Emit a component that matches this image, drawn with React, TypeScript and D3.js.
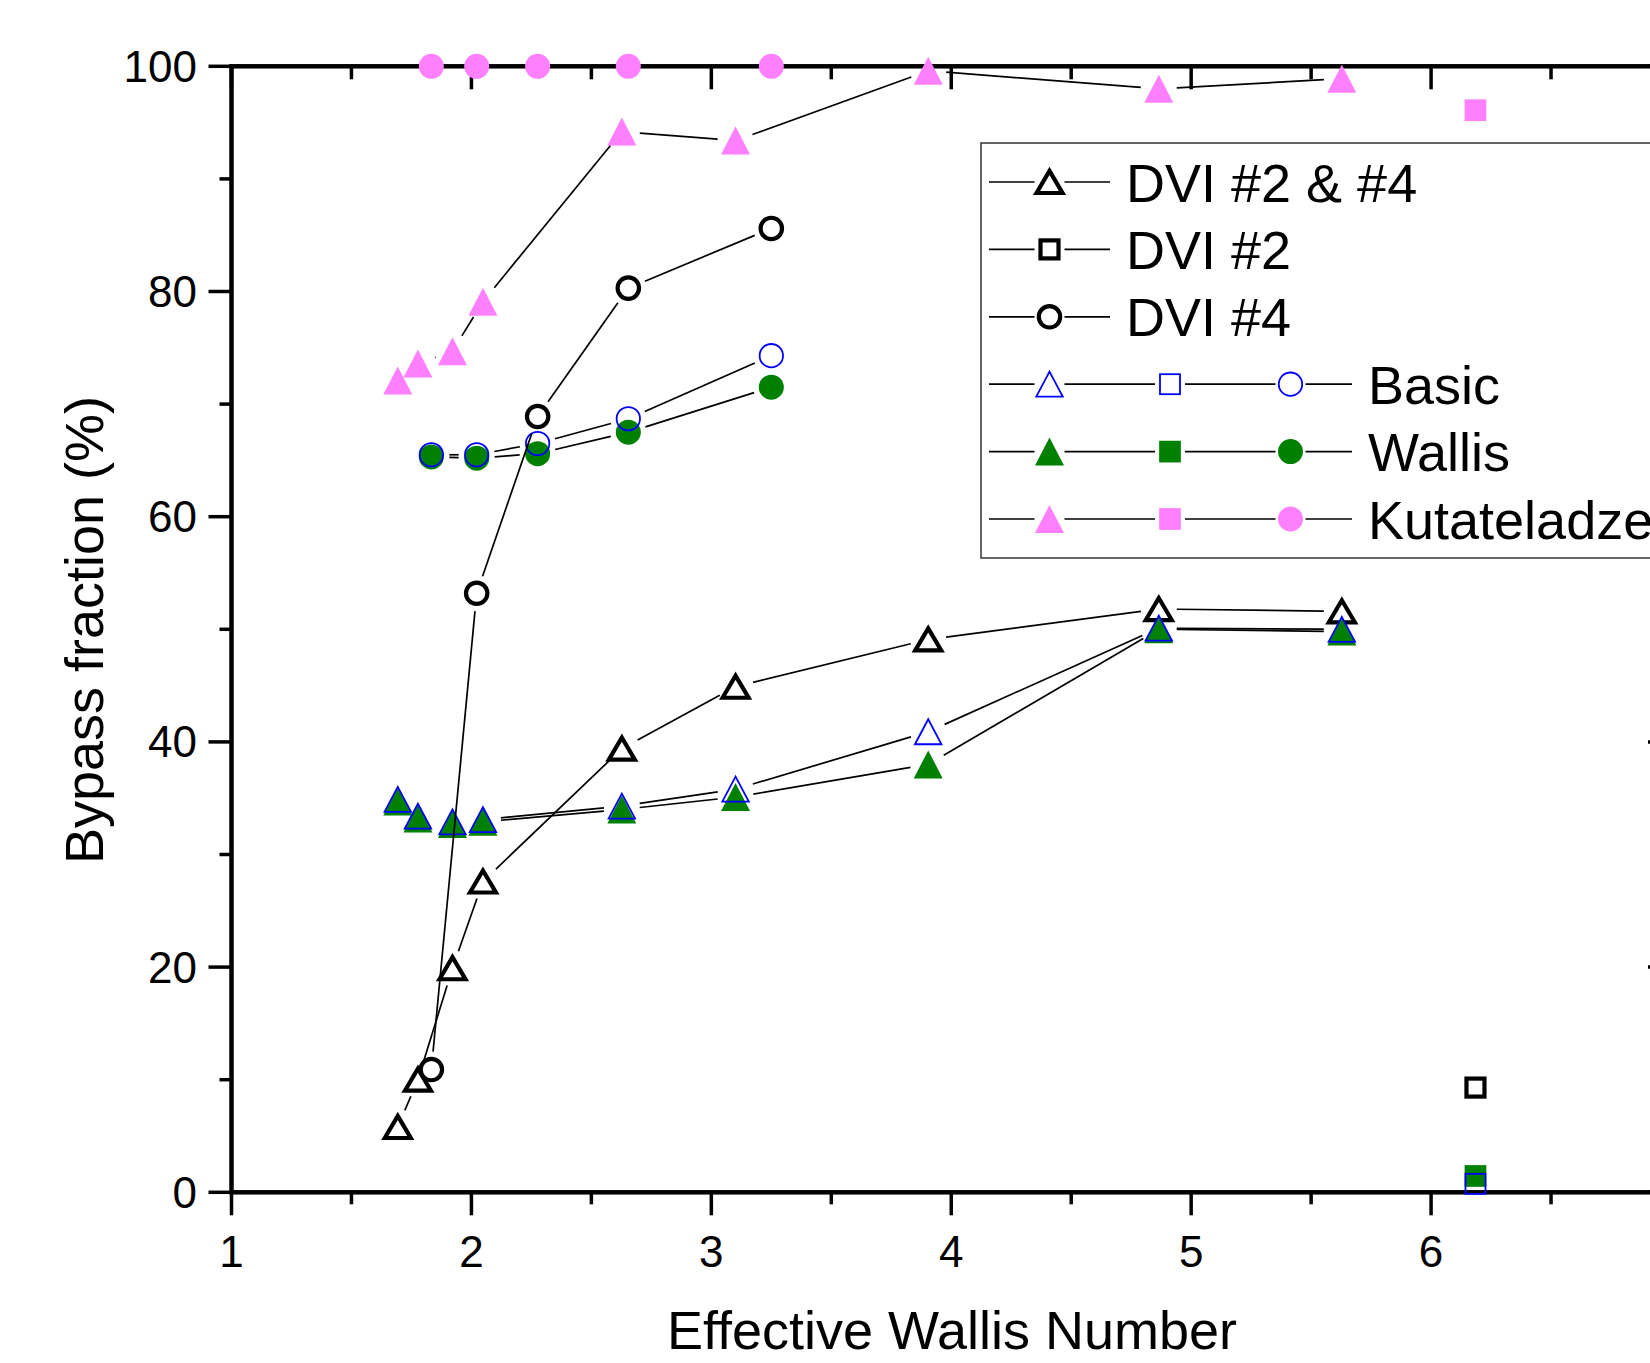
import React from "react";
import * as d3 from "d3";

// Effective Wallis number at the measured points
const xTri = [1.693, 1.777, 1.921, 2.048, 2.627, 3.101, 3.904, 4.865, 5.628];
const xCirc = [1.833, 2.022, 2.276, 2.654, 3.25];
const xSq = [6.185];

// bypass fraction (%)
const dvi24Tri = [5.8, 10.0, 19.9, 27.6, 39.4, 44.9, 49.1, 51.8, 51.6];
const dvi2Sq = [9.3];
const dvi4Circ = [10.9, 53.2, 68.9, 80.3, 85.6];
const basicTri = [34.9, 33.4, 32.9, 33.1, 34.3, 35.8, 40.9, 50.1, 50.0];
const basicSq = [0.75];
const basicCirc = [65.5, 65.5, 66.5, 68.7, 74.3];
const wallisTri = [34.7, 33.2, 32.7, 32.9, 34.0, 35.1, 38.0, 50.0, 49.8];
const wallisSq = [1.45];
const wallisCirc = [65.3, 65.2, 65.6, 67.5, 71.5];
const kutaTri = [72.1, 73.6, 74.7, 79.1, 94.2, 93.4, 99.6, 98.0, 98.9];
const kutaSq = [96.1];
const kutaCirc = [100, 100, 100, 100, 100];

const yTicks = [0, 20, 40, 60, 80, 100];
const yMinor = [10, 30, 50, 70, 90];
const xTicks = [1, 2, 3, 4, 5, 6, 7];
const xLabels = [1, 2, 3, 4, 5, 6];
const xMinor = [1.5, 2.5, 3.5, 4.5, 5.5, 6.5];

const PINK = "#ff80ff";
const GREEN = "#008000";
const BLUE = "#0000ff";

const styles = {
  black: { fill: "none", stroke: "#000", sw: 4.2, kind: "black" },
  blue: { fill: "none", stroke: BLUE, sw: 1.8, kind: "blue" },
  green: { fill: GREEN, stroke: "none", sw: 0, kind: "fill" },
  pink: { fill: PINK, stroke: "none", sw: 0, kind: "fill" },
};

const x = d3.scaleLinear().domain([1, 7]).range([231.5, 1671]);
const y = d3.scaleLinear().domain([0, 100]).range([1192.3, 66.3]);

const font = "'Liberation Sans', Arial, sans-serif";

const triSize = { black: [26, 22], blue: [26.5, 25], fill: [29, 28] };
const sqSize = { black: 18, blue: 20, fill: 21.7 };
const circR = { black: 10.7, blue: 11.7, fill: 12.5 };

function marker(shape, cx, cy, st, key) {
  if (shape === "tri") {
    const [w, h] = triSize[st.kind];
    const d = `M${cx - w / 2},${cy + h / 2}L${cx},${cy - h / 2}L${cx + w / 2},${cy + h / 2}Z`;
    return <path key={key} d={d} fill={st.fill} stroke={st.stroke} strokeWidth={st.sw} strokeLinejoin="miter" />;
  }
  if (shape === "sq") {
    const s = sqSize[st.kind];
    return <rect key={key} x={cx - s / 2} y={cy - s / 2} width={s} height={s} fill={st.fill} stroke={st.stroke} strokeWidth={st.sw} />;
  }
  return <circle key={key} cx={cx} cy={cy} r={circR[st.kind]} fill={st.fill} stroke={st.stroke} strokeWidth={st.sw} />;
}

// Origin style: connecting line broken around each marker
function gapLines(pts, gap, key) {
  const segs = [];
  for (let i = 0; i < pts.length - 1; i++) {
    const [x1, y1] = pts[i], [x2, y2] = pts[i + 1];
    const dx = x2 - x1, dy = y2 - y1, L = Math.hypot(dx, dy);
    if (L <= 2 * gap) continue;
    const ux = dx / L, uy = dy / L;
    segs.push(
      <line key={key + i} x1={x1 + ux * gap} y1={y1 + uy * gap} x2={x2 - ux * gap} y2={y2 - uy * gap}
        stroke="#000" strokeWidth={1.7} />
    );
  }
  return segs;
}

const series = [
  { xs: xTri, ys: dvi24Tri, shape: "tri", st: styles.black },
  { xs: xTri, ys: wallisTri, shape: "tri", st: styles.green },
  { xs: xCirc, ys: wallisCirc, shape: "circ", st: styles.green },
  { xs: xSq, ys: wallisSq, shape: "sq", st: styles.green },
  { xs: xTri, ys: basicTri, shape: "tri", st: styles.blue },
  { xs: xCirc, ys: basicCirc, shape: "circ", st: styles.blue },
  { xs: xSq, ys: basicSq, shape: "sq", st: styles.blue },
  { xs: xTri, ys: kutaTri, shape: "tri", st: styles.pink },
  { xs: xCirc, ys: kutaCirc, shape: "circ", st: styles.pink },
  { xs: xSq, ys: kutaSq, shape: "sq", st: styles.pink },
  { xs: xSq, ys: dvi2Sq, shape: "sq", st: styles.black },
  { xs: xCirc, ys: dvi4Circ, shape: "circ", st: styles.black },
];

const legendRows = [
  { label: "DVI #2 & #4", marks: [["tri", styles.black]] },
  { label: "DVI #2", marks: [["sq", styles.black]] },
  { label: "DVI #4", marks: [["circ", styles.black]] },
  { label: "Basic", marks: [["tri", styles.blue], ["sq", styles.blue], ["circ", styles.blue]] },
  { label: "Wallis", marks: [["tri", styles.green], ["sq", styles.green], ["circ", styles.green]] },
  { label: "Kutateladze", marks: [["tri", styles.pink], ["sq", styles.pink], ["circ", styles.pink]] },
];

export default function App() {
  const x0 = x.range()[0], x1 = x.range()[1];
  const y0 = y.range()[0], y1 = y.range()[1];
  const legX = 981, legY = 143, rowH = 67.4, row0 = 182;
  const markXs = [1049.5, 1170, 1290.5];

  return (
    <svg width={1650} height={1363} style={{ position: "absolute", left: 0, top: 0, display: "block", background: "#fff" }}>
      <rect width={1650} height={1363} fill="#fff" />

      {/* ticks */}
      {yTicks.map((t) => (
        <g key={"yt" + t}>
          <line x1={x0 - 23} x2={x0} y1={y(t)} y2={y(t)} stroke="#000" strokeWidth={3.5} />
          <line x1={x1} x2={x1 - 23} y1={y(t)} y2={y(t)} stroke="#000" strokeWidth={3.5} />
          <text x={197} y={y(t) + 15.5} textAnchor="end" fontFamily={font} fontSize={44}>{t}</text>
        </g>
      ))}
      {yMinor.map((t) => (
        <g key={"ym" + t}>
          <line x1={x0 - 12} x2={x0} y1={y(t)} y2={y(t)} stroke="#000" strokeWidth={3.5} />
          <line x1={x1} x2={x1 - 12} y1={y(t)} y2={y(t)} stroke="#000" strokeWidth={3.5} />
        </g>
      ))}
      {xTicks.map((t) => (
        <g key={"xt" + t}>
          <line x1={x(t)} x2={x(t)} y1={y0} y2={y0 + 23} stroke="#000" strokeWidth={3.5} />
          <line x1={x(t)} x2={x(t)} y1={y1} y2={y1 + 23} stroke="#000" strokeWidth={3.5} />
        </g>
      ))}
      {xLabels.map((t) => (
        <text key={"xl" + t} x={x(t)} y={1267} textAnchor="middle" fontFamily={font} fontSize={44}>{t}</text>
      ))}
      {xMinor.map((t) => (
        <g key={"xm" + t}>
          <line x1={x(t)} x2={x(t)} y1={y0} y2={y0 + 12} stroke="#000" strokeWidth={3.5} />
          <line x1={x(t)} x2={x(t)} y1={y1} y2={y1 + 13} stroke="#000" strokeWidth={3.5} />
        </g>
      ))}

      {/* frame */}
      <rect x={x0} y={y1} width={x1 - x0} height={y0 - y1} fill="none" stroke="#000" strokeWidth={4.5} />

      {/* axis titles */}
      <text x={952} y={1349} textAnchor="middle" fontFamily={font} fontSize={54}>Effective Wallis Number</text>
      <text transform={`translate(103,630) rotate(-90)`} textAnchor="middle" fontFamily={font} fontSize={54}>Bypass fraction (%)</text>

      {/* legend */}
      <rect x={legX} y={legY} width={800} height={558 - legY} fill="#fff" stroke="#333" strokeWidth={1.5} />
      {legendRows.map((r, i) => {
        const cy = row0 + i * rowH;
        const n = r.marks.length;
        const lineEnd = n === 1 ? 1110 : 1352;
        const textX = n === 1 ? 1126 : 1368;
        const pts = [[989, cy], ...markXs.slice(0, n).map((mx) => [mx, cy]), [lineEnd, cy]];
        const segs = [];
        for (let k = 0; k < pts.length - 1; k++) {
          const a = pts[k][0] + (k === 0 ? 0 : 15);
          const b = pts[k + 1][0] - (k === pts.length - 2 ? 0 : 15);
          segs.push(<line key={"ls" + i + k} x1={a} x2={b} y1={cy} y2={cy} stroke="#000" strokeWidth={1.7} />);
        }
        return (
          <g key={"leg" + i}>
            {segs}
            {r.marks.map(([shape, st], k) => marker(shape, markXs[k], cy, st, "lm" + i + k))}
            <text x={textX} y={cy + 19.5} fontFamily={font} fontSize={54}>{r.label}</text>
          </g>
        );
      })}

      {/* data */}
      {series.map((s, si) => {
        const pts = s.xs.map((v, i) => [x(v), y(s.ys[i])]);
        return (
          <g key={"s" + si}>
            {gapLines(pts, 18, "g" + si + "_")}
            {pts.map(([px, py], i) => marker(s.shape, px, py, s.st, "m" + si + "_" + i))}
          </g>
        );
      })}
    </svg>
  );
}
